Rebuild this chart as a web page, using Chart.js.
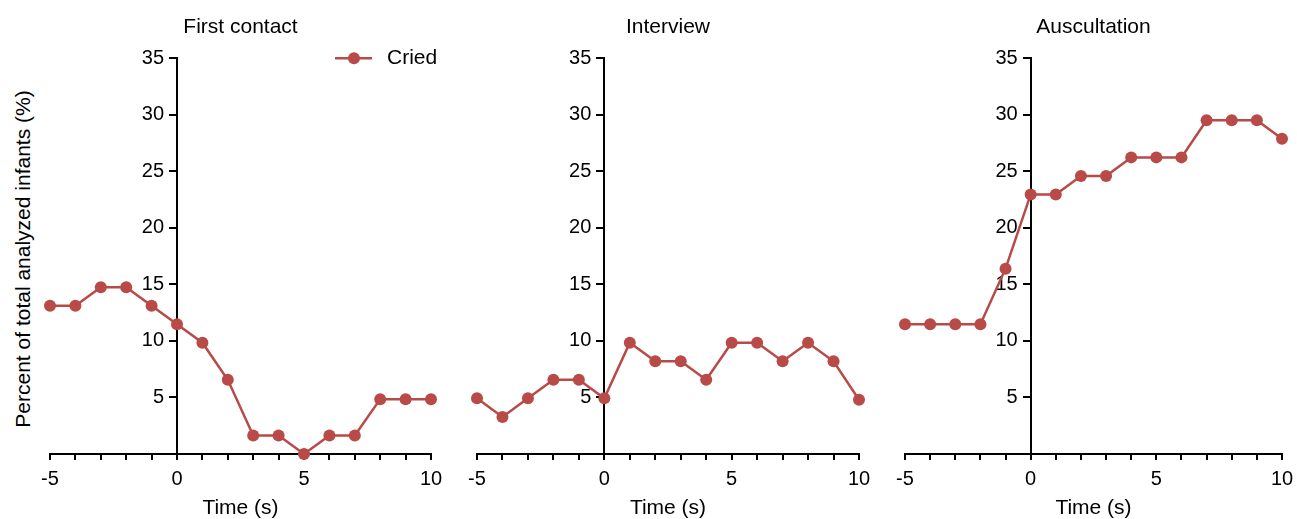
<!DOCTYPE html>
<html>
<head>
<meta charset="utf-8">
<script src="https://cdn.jsdelivr.net/npm/chart.js@4.4.0/dist/chart.umd.min.js"></script>
<style>
  body { margin: 0; width: 1297px; height: 519px; overflow: hidden; background: #fff; position: relative; font-family: "Liberation Sans", Arial, sans-serif; }
  canvas { position: absolute; top: 0; }
  #ytitle { position: absolute; left: 23px; top: 259px; transform: translate(-50%, -50%) rotate(-90deg); white-space: nowrap; font-size: 21px; color: #000; }
</style>
</head>
<body>
<div id="ytitle">Percent of total analyzed infants (%)</div>
<canvas id="c0"></canvas>
<canvas id="c1"></canvas>
<canvas id="c2"></canvas>
<script>
// time relative to event (s)
const seconds = [-5, -4, -3, -2, -1, 0, 1, 2, 3, 4, 5, 6, 7, 8, 9, 10];
// percent of infants crying
const firstContact = [13.1, 13.1, 14.75, 14.75, 13.1, 11.48, 9.84, 6.56, 1.64, 1.64, 0, 1.64, 1.64, 4.85, 4.85, 4.85];
const interview = [4.92, 3.28, 4.92, 6.56, 6.56, 4.92, 9.84, 8.2, 8.2, 6.56, 9.84, 9.84, 8.2, 9.84, 8.2, 4.8];
const auscultation = [11.48, 11.48, 11.48, 11.48, 16.39, 22.95, 22.95, 24.59, 24.59, 26.23, 26.23, 26.23, 29.51, 29.51, 29.51, 27.87];
const panelTitles = ['First contact', 'Interview', 'Auscultation'];
const seriesLabel = 'Cried';
const yMax = 35;

const panels = [firstContact, interview, auscultation];
// plot area edges in page pixels
const areaLeft = [50, 477, 905];
const areaRight = [431, 859, 1282];
const pad = 25;
const red = '#b84a47';
const fam = '"Liberation Sans", Arial, sans-serif';

// y axis sits at x = 0, push its labels left of the tick marks
class CrossLinearScale extends Chart.LinearScale {
    _computeLabelItems(chartArea) {
        const items = super._computeLabelItems(chartArea);
        const shift = this.options.ticks.padding + this.options.grid.tickLength;
        items.forEach(it => {
            if (it.options && it.options.translation) it.options.translation[0] -= shift;
        });
        return items;
    }
}
CrossLinearScale.id = 'crossLinear';
CrossLinearScale.defaults = Chart.LinearScale.defaults;
Chart.register(CrossLinearScale);

// legend drawn as line + dot like the original
const criedLegend = {
    id: 'criedLegend',
    afterDraw(chart, args, opts) {
        if (!opts.show) return;
        const ds = chart.data.datasets[0];
        const ctx = chart.ctx;
        const a = chart.chartArea;
        const y = a.top;
        const x0 = a.right - 96;
        ctx.save();
        ctx.strokeStyle = ds.borderColor;
        ctx.lineWidth = ds.borderWidth;
        ctx.beginPath();
        ctx.moveTo(x0, y);
        ctx.lineTo(x0 + 37, y);
        ctx.stroke();
        ctx.fillStyle = ds.backgroundColor;
        ctx.beginPath();
        ctx.arc(x0 + 19, y, ds.pointRadius, 0, Math.PI * 2);
        ctx.fill();
        ctx.fillStyle = '#000';
        ctx.font = '21px ' + fam;
        ctx.textBaseline = 'middle';
        ctx.fillText(ds.label, x0 + 52, y);
        ctx.restore();
    }
};

panels.forEach((vals, i) => {
    const cv = document.getElementById('c' + i);
    const w = areaRight[i] - areaLeft[i] + pad * 2;
    cv.width = w;
    cv.height = 519;
    cv.style.left = (areaLeft[i] - pad) + 'px';

    new Chart(cv.getContext('2d'), {
        type: 'line',
        data: {
            datasets: [{
                label: seriesLabel,
                data: seconds.map((s, k) => ({ x: s, y: vals[k] })),
                borderColor: red,
                backgroundColor: red,
                borderWidth: 2.5,
                pointRadius: 6,
                pointBorderWidth: 0,
                pointHoverRadius: 6,
                tension: 0,
                clip: false
            }]
        },
        options: {
            responsive: false,
            animation: false,
            layout: { padding: { left: pad, right: pad, top: 0, bottom: 0 } },
            plugins: {
                legend: { display: false },
                tooltip: { enabled: false },
                title: {
                    display: true,
                    text: panelTitles[i],
                    color: '#000',
                    font: { size: 21, weight: 'normal', family: fam },
                    padding: { top: 15, bottom: 18 }
                },
                criedLegend: { show: i === 0 }
            },
            scales: {
                x: {
                    type: 'linear',
                    min: -5,
                    max: 10,
                    position: 'bottom',
                    grid: { drawOnChartArea: false, drawTicks: true, tickLength: 6, color: '#000', lineWidth: 2 },
                    border: { display: true, color: '#000', width: 2 },
                    ticks: {
                        stepSize: 1,
                        autoSkip: false,
                        maxRotation: 0,
                        padding: 9,
                        color: '#000',
                        font: { size: 20, family: fam, lineHeight: 1 },
                        callback: v => (v % 5 === 0 ? String(v) : '')
                    },
                    title: {
                        display: true,
                        text: 'Time (s)',
                        color: '#000',
                        font: { size: 21, family: fam, lineHeight: 1 },
                        padding: { top: 0, bottom: 0 }
                    }
                },
                y: {
                    type: 'crossLinear',
                    min: 0,
                    max: yMax,
                    position: { x: 0 },
                    grid: { drawOnChartArea: false, drawTicks: true, tickLength: 7, color: '#000', lineWidth: 2 },
                    border: { display: true, color: '#000', width: 2 },
                    ticks: {
                        stepSize: 5,
                        padding: 6,
                        color: '#000',
                        font: { size: 20, family: fam },
                        callback: v => (v === 0 ? '' : String(v))
                    }
                }
            }
        },
        plugins: [criedLegend]
    });
});
</script>
</body>
</html>
